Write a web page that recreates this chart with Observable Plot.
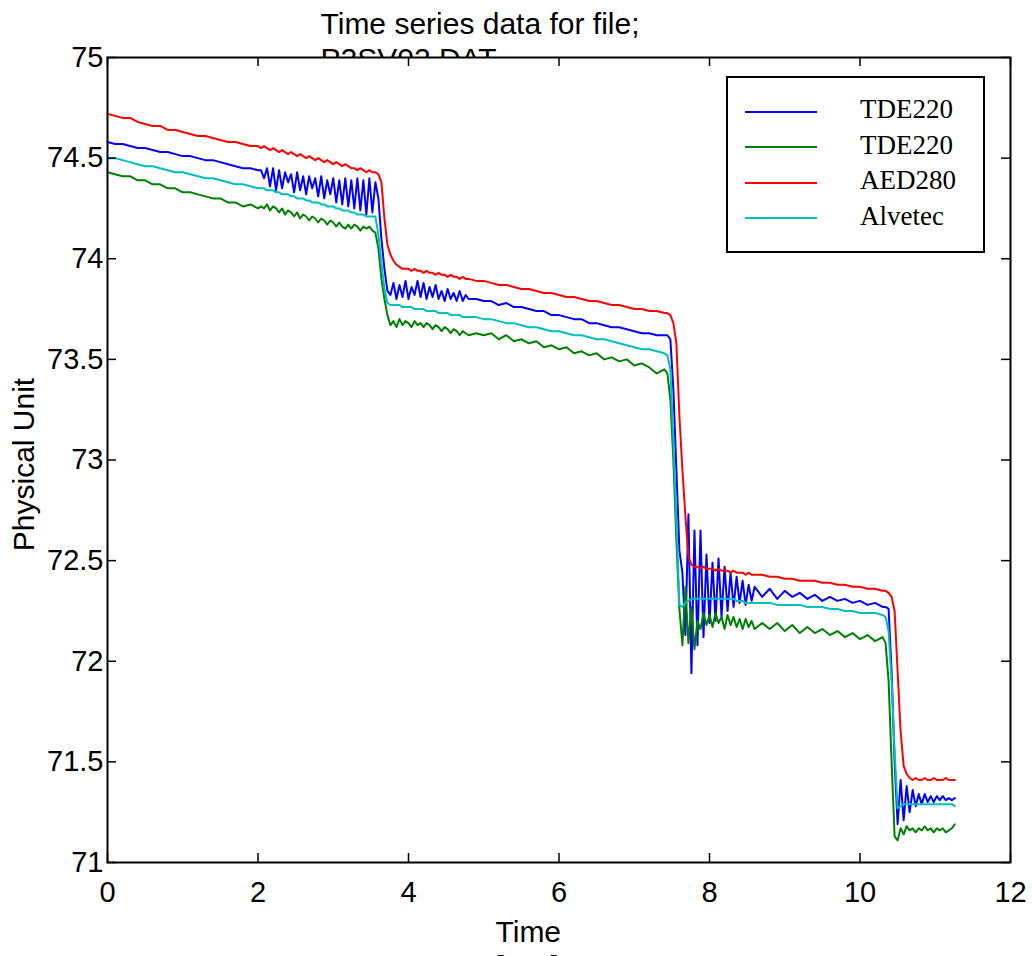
<!DOCTYPE html>
<html><head><meta charset="utf-8">
<script src="https://cdn.jsdelivr.net/npm/d3@7"></script>
<script src="https://cdn.jsdelivr.net/npm/@observablehq/plot@0.6"></script>
<style>
html,body{margin:0;padding:0;background:#fff;}
#wrap{position:relative;width:1032px;height:956px;overflow:hidden;}
#legend{position:absolute;left:726px;top:76px;width:259px;height:177px;box-sizing:border-box;border:2px solid #000;background:#fff;font-family:"Liberation Serif","Times New Roman",serif;font-size:27px;}
.sw{position:absolute;left:17px;width:72px;height:2px;}
.lb{position:absolute;left:132px;line-height:27px;white-space:nowrap;color:#000;}
</style></head><body><div id="wrap"></div>
<script>
// ---- data ----
const titleLines = ["Time series data for file;", "P2SV02.DAT"];
const xLabelLines = ["Time", "[sec]"];
const yLabel = "Physical Unit";
const xTicks = [0, 2, 4, 6, 8, 10, 12];
const yTicks = [71, 71.5, 72, 72.5, 73, 73.5, 74, 74.5, 75];
const legendLabels = ["TDE220", "TDE220", "AED280", "Alvetec"];
const seriesColors = ["#0000ff", "#008000", "#ff0000", "#00bfbf"];

const time = [
0,0.1,0.2,0.3,0.4,0.5,0.6,0.7,0.8,0.9,1.0,1.1,1.2,1.3,1.4,1.5,1.6,1.7,1.8,1.9,2.0,
2.04,2.08,2.12,2.16,2.2,2.24,2.28,2.32,2.36,2.4,2.44,2.48,2.52,2.56,2.6,2.64,2.68,2.72,2.76,2.8,2.84,2.88,2.92,2.96,3.0,3.04,3.08,3.12,3.16,3.2,3.24,3.28,3.32,3.36,3.4,3.44,3.48,3.52,3.56,
3.6,3.64,3.68,3.72,3.76,3.8,3.84,3.88,3.92,3.96,4.0,4.04,4.08,4.12,4.16,4.2,4.24,4.28,4.32,4.36,4.4,4.44,4.48,4.52,4.56,4.6,4.64,4.68,4.72,4.76,4.8,
4.9,5.0,5.1,5.2,5.3,5.4,5.5,5.6,5.7,5.8,5.9,6.0,6.1,6.2,6.3,6.4,6.5,6.6,6.7,6.8,6.9,7.0,7.1,7.2,7.3,7.4,
7.44,7.48,7.52,7.56,7.6,7.64,7.68,7.72,7.76,7.8,7.84,7.88,7.92,7.96,8.0,8.04,8.08,8.12,8.16,8.2,8.24,8.28,8.32,8.36,8.4,8.44,8.48,8.52,8.56,8.6,
8.7,8.8,8.9,9.0,9.1,9.2,9.3,9.4,9.5,9.6,9.7,9.8,9.9,10.0,10.1,10.2,10.3,
10.34,10.38,10.42,10.46,10.5,10.54,10.58,10.62,10.66,10.7,10.74,10.78,10.82,10.86,10.9,10.94,10.98,11.02,11.06,11.1,11.14,11.18,11.22,11.26
];

const tde220a = [
74.58,74.57,74.57,74.56,74.55,74.55,74.54,74.53,74.53,74.52,74.51,74.51,74.50,74.49,74.49,74.48,74.47,74.46,74.45,74.45,74.44,
74.44,74.40,74.45,74.36,74.45,74.34,74.44,74.35,74.43,74.38,74.42,74.33,74.43,74.34,74.41,74.32,74.41,74.35,74.40,74.31,74.41,74.30,74.39,74.32,74.40,74.28,74.39,74.27,74.40,74.26,74.39,74.25,74.40,74.24,74.39,74.22,74.40,74.23,74.38,
74.30,74.10,73.95,73.84,73.82,73.88,73.80,73.87,73.81,73.89,73.80,73.86,73.82,73.89,73.81,73.88,73.80,73.86,73.81,73.87,73.80,73.84,73.79,73.85,73.80,73.83,73.79,73.84,73.79,73.82,73.80,
73.80,73.79,73.79,73.77,73.78,73.76,73.76,73.75,73.74,73.74,73.72,73.72,73.71,73.70,73.70,73.68,73.68,73.67,73.66,73.66,73.65,73.64,73.63,73.63,73.62,73.62,
73.62,73.60,73.35,72.95,72.55,72.44,72.13,72.73,71.94,72.65,72.08,72.65,72.12,72.53,72.19,72.49,72.20,72.51,72.22,72.47,72.25,72.44,72.27,72.42,72.29,72.40,72.28,72.38,72.30,72.37,
72.32,72.36,72.31,72.35,72.32,72.34,72.31,72.33,72.30,72.32,72.30,72.31,72.29,72.30,72.28,72.29,72.27,
72.27,72.26,71.95,71.50,71.19,71.41,71.21,71.38,71.25,71.36,71.28,71.34,71.29,71.34,71.30,71.33,71.30,71.33,71.31,71.33,71.31,71.32,71.31,71.32
];

const tde220b = [
74.43,74.42,74.41,74.41,74.39,74.39,74.37,74.37,74.35,74.35,74.33,74.33,74.32,74.31,74.30,74.30,74.28,74.28,74.26,74.27,74.25,
74.26,74.25,74.27,74.24,74.26,74.25,74.23,74.25,74.22,74.24,74.23,74.21,74.23,74.20,74.22,74.21,74.19,74.21,74.20,74.18,74.20,74.19,74.17,74.19,74.18,74.16,74.18,74.16,74.15,74.17,74.15,74.17,74.16,74.14,74.16,74.15,74.16,74.14,74.13,
74.05,73.90,73.80,73.72,73.67,73.69,73.66,73.70,73.67,73.69,73.68,73.66,73.69,73.67,73.68,73.66,73.68,73.67,73.65,73.67,73.66,73.64,73.66,73.65,73.63,73.65,73.64,73.62,73.64,73.63,73.62,
73.63,73.62,73.63,73.60,73.62,73.59,73.60,73.58,73.59,73.56,73.57,73.55,73.56,73.53,73.54,73.52,73.53,73.50,73.51,73.49,73.50,73.47,73.48,73.46,73.43,73.45,
73.43,73.30,73.00,72.60,72.26,72.08,72.37,72.09,72.27,72.06,72.20,72.16,72.24,72.18,72.23,72.17,72.24,72.19,72.22,72.16,72.23,72.18,72.22,72.17,72.21,72.16,72.21,72.17,72.20,72.16,
72.19,72.16,72.19,72.15,72.18,72.14,72.17,72.14,72.16,72.13,72.15,72.12,72.14,72.11,72.13,72.10,72.12,
72.09,71.90,71.50,71.13,71.11,71.17,71.14,71.18,71.16,71.17,71.15,71.17,71.16,71.18,71.16,71.17,71.15,71.17,71.16,71.17,71.15,71.16,71.17,71.19
];

const aed280 = [
74.72,74.71,74.70,74.70,74.68,74.67,74.66,74.66,74.64,74.64,74.63,74.62,74.61,74.61,74.60,74.59,74.58,74.58,74.57,74.56,74.56,
74.55,74.56,74.55,74.54,74.55,74.54,74.53,74.54,74.53,74.52,74.53,74.52,74.51,74.52,74.51,74.50,74.51,74.50,74.49,74.50,74.49,74.48,74.49,74.48,74.47,74.48,74.47,74.46,74.47,74.46,74.45,74.45,74.44,74.45,74.44,74.43,74.44,74.43,74.43,
74.42,74.38,74.20,74.07,74.02,73.99,73.97,73.96,73.95,73.95,73.95,73.94,73.95,73.94,73.94,73.93,73.94,73.93,73.93,73.92,73.93,73.92,73.92,73.91,73.92,73.91,73.91,73.90,73.91,73.90,73.90,
73.89,73.89,73.88,73.87,73.87,73.86,73.85,73.85,73.84,73.83,73.83,73.82,73.81,73.81,73.80,73.79,73.79,73.78,73.77,73.77,73.76,73.75,73.75,73.74,73.74,73.73,
73.73,73.72,73.68,73.58,73.22,72.95,72.72,72.52,72.48,72.47,72.47,72.46,72.47,72.46,72.46,72.46,72.45,72.46,72.45,72.45,72.45,72.44,72.45,72.44,72.44,72.44,72.43,72.44,72.43,72.43,
72.43,72.42,72.42,72.41,72.41,72.40,72.40,72.40,72.39,72.39,72.38,72.38,72.37,72.37,72.36,72.36,72.35,
72.35,72.34,72.32,72.25,71.95,71.65,71.48,71.44,71.42,71.41,71.42,71.41,71.41,71.42,71.41,71.41,71.42,71.41,71.41,71.41,71.42,71.41,71.41,71.41
];

const alvetec = [
74.50,74.50,74.49,74.48,74.47,74.46,74.46,74.45,74.44,74.43,74.43,74.42,74.41,74.40,74.40,74.39,74.38,74.37,74.37,74.36,74.35,
74.35,74.35,74.34,74.34,74.34,74.33,74.33,74.32,74.32,74.32,74.31,74.31,74.30,74.30,74.30,74.29,74.29,74.28,74.28,74.28,74.27,74.27,74.26,74.26,74.26,74.25,74.25,74.24,74.24,74.24,74.23,74.23,74.22,74.22,74.22,74.21,74.21,74.21,74.21,
74.12,73.98,73.85,73.78,73.77,73.77,73.77,73.77,73.76,73.76,73.76,73.76,73.75,73.75,73.75,73.75,73.74,73.74,73.74,73.74,73.73,73.73,73.73,73.73,73.72,73.72,73.72,73.72,73.71,73.71,73.71,
73.71,73.70,73.70,73.69,73.68,73.68,73.67,73.66,73.66,73.65,73.64,73.64,73.63,73.62,73.62,73.61,73.60,73.60,73.59,73.58,73.57,73.56,73.55,73.55,73.54,73.53,
73.52,73.45,73.10,72.70,72.28,72.27,72.29,72.30,72.31,72.31,72.31,72.31,72.31,72.31,72.31,72.31,72.31,72.31,72.31,72.31,72.31,72.31,72.31,72.30,72.30,72.30,72.29,72.29,72.29,72.29,
72.29,72.29,72.28,72.28,72.28,72.28,72.27,72.27,72.27,72.26,72.26,72.25,72.25,72.24,72.24,72.24,72.23,
72.22,72.15,71.90,71.55,71.27,71.28,71.29,71.29,71.29,71.29,71.29,71.29,71.29,71.29,71.29,71.29,71.29,71.29,71.29,71.29,71.29,71.29,71.29,71.28
];

// ---- build ----
const seriesValues = [tde220a, tde220b, aed280, alvetec];
seriesValues.forEach((v, k) => {
  if (v.length !== time.length) throw new Error("series " + k + " length " + v.length + " vs time " + time.length);
});

const W = 1032, H = 956, mL = 107, mR = 22, mT = 57, mB = 94;
const fw = W - mL - mR, fh = H - mT - mB;
const tickLen = 9;

const tables = seriesValues.map((vals, k) => time.map((t, i) => ({t, v: vals[i], series: k})));
const fmt = d => String(d);
const txt = {textAnchor: "start", lineAnchor: "bottom", fontSize: 30, fill: "black"};

const svg = Plot.plot({
  width: W, height: H,
  marginLeft: mL, marginRight: mR, marginTop: mT, marginBottom: mB,
  style: {background: "white", fontFamily: "'Liberation Sans', Arial, Helvetica, sans-serif", fontSize: "29px", overflow: "visible", color: "black"},
  x: {domain: [0, 12]},
  y: {domain: [71, 75]},
  marks: [
    Plot.text([titleLines[0]], {...txt, frameAnchor: "top-left", dx: 213, dy: -24}),
    Plot.text([titleLines[1]], {...txt, frameAnchor: "top-left", dx: 213, dy: 11}),
    Plot.text([xLabelLines[0]], {...txt, frameAnchor: "bottom-left", dx: 388, dy: 79}),
    Plot.text([xLabelLines[1]], {...txt, frameAnchor: "bottom-left", dx: 388, dy: 114}),
    Plot.text([yLabel], {frameAnchor: "left", dx: -74, dy: 4.5, rotate: -90, textAnchor: "middle", lineAnchor: "bottom", fontSize: 30, fill: "black"}),
    Plot.frame({fill: "white", stroke: null}),
    ...tables.map((tb, k) => Plot.line(tb, {x: "t", y: "v", stroke: seriesColors[k], strokeWidth: 2})),
    Plot.tickX(xTicks, {x: d => d, insetTop: fh - tickLen, stroke: "black", strokeWidth: 1.5}),
    Plot.tickX(xTicks, {x: d => d, insetBottom: fh - tickLen, stroke: "black", strokeWidth: 1.5}),
    Plot.tickY(yTicks, {y: d => d, insetRight: fw - tickLen, stroke: "black", strokeWidth: 1.5}),
    Plot.tickY(yTicks, {y: d => d, insetLeft: fw - tickLen, stroke: "black", strokeWidth: 1.5}),
    Plot.frame({stroke: "black", strokeWidth: 2}),
    Plot.axisX(xTicks, {tickSize: 0, tickPadding: 19, tickFormat: fmt, label: null, fontSize: 29}),
    Plot.axisY(yTicks, {tickSize: 0, tickPadding: 4, tickFormat: fmt, label: null, fontSize: 29})
  ]
});

const wrap = document.getElementById("wrap");
wrap.appendChild(svg);

// legend (HTML overlay)
const legend = document.createElement("div");
legend.id = "legend";
legendLabels.forEach((lab, i) => {
  const sw = document.createElement("div");
  sw.className = "sw";
  sw.style.top = (33 + 35.4 * i) + "px";
  sw.style.background = seriesColors[i];
  legend.appendChild(sw);
  const lb = document.createElement("div");
  lb.className = "lb";
  lb.style.top = (18.4 + 35.4 * i) + "px";
  lb.textContent = lab;
  legend.appendChild(lb);
});
wrap.appendChild(legend);
</script></body></html>
